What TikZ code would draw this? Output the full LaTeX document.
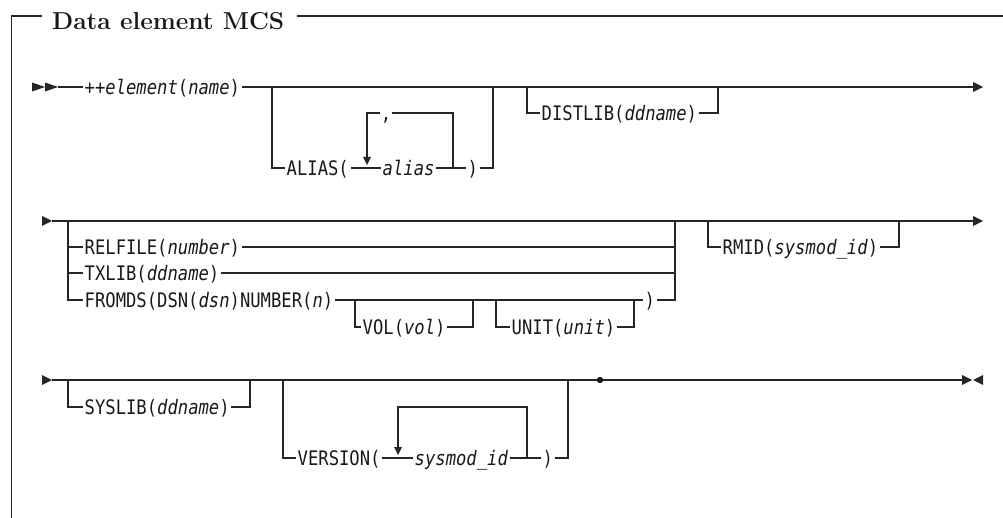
\documentclass[tikz,border=0pt]{standalone}
\usepackage{fontspec}
\newfontfamily\synfont[FakeStretch=0.86]{DejaVu Sans Mono}
\begin{document}
\begin{tikzpicture}[x=1pt,y=-1pt,
  ln/.style={line width=1.25pt,draw=black!85,line join=miter},
  syn/.style={font=\synfont\fontsize{20}{20}\selectfont,inner xsep=1.5pt,inner ysep=0pt,text height=14.6pt,text depth=0pt,anchor=west,text=black!90},
  ttlstyle/.style={font=\fontsize{24.5}{24.5}\selectfont\bfseries,inner sep=0pt,anchor=base west,text=black!90},
  tip/.style={fill=black!85}]
\useasboundingbox (0,0) rectangle (1003,518);

% ---------- frame and title
\coordinate (fTL) at (11.5,16);
\coordinate (fBL) at (11.5,518);
\coordinate (fTR) at (1003,16);
\node[ttlstyle] (ttl) at (52,29.5) {Data element MCS};
\draw[ln] (fBL) -- (fTL) -- ([xshift=-10pt]ttl.west |- fTL);
\draw[ln] ([xshift=13pt]ttl.east |- fTL) -- (fTR);

% ---------- row 1
\coordinate (r1s) at (58,87);
\coordinate (r1e) at (973,87);
\fill[tip] (32,82.5) -- (45,87) -- (32,91.5) -- cycle;
\fill[tip] (45,82.5) -- (58,87) -- (45,91.5) -- cycle;
\node[syn] (elem) at (83,87) {++\textit{element}(\textit{name})};
\draw[ln] (r1s) -- (elem.west);
\draw[ln] (elem.east) -- (r1e);
\fill[tip] (973,82) -- (983,87) -- (973,92) -- cycle;

% ALIAS branch
\coordinate (ab) at (272,87);
\coordinate (ab2) at (272,168);
\coordinate (ac) at (493,168);
\coordinate (at) at (493,87);
\node[syn] (aliasA) at (285,168) {ALIAS(};
\node[syn] (aliasV) at (381,168) {\textit{alias}};
\node[syn] (aliasP) at (466,168) {)};
\draw[ln] (ab) -- (ab2) -- (aliasA.west);
\draw[ln] (aliasA.east) -- (aliasV.west);
\draw[ln] (aliasV.east) -- (aliasP.west);
\draw[ln] (aliasP.east) -- (ac) -- (at);
% repeat loop
\coordinate (l1a) at (453,168);
\coordinate (l1b) at (453,113);
\coordinate (l1c) at (367,113);
\coordinate (l1d) at (367,157);
\node[syn,anchor=center,inner xsep=0.5pt] (comma) at (386,113) {,};
\draw[ln] (l1a) -- (l1b) -- (comma.east);
\draw[ln] (comma.west) -- (l1c) -- (l1d);
\fill[tip] (363,157) -- (371,157) -- (367,165) -- cycle;

% DISTLIB branch
\coordinate (db) at (527,87);
\coordinate (db2) at (527,113);
\coordinate (dc) at (718,113);
\coordinate (dt) at (718,87);
\node[syn] (dist) at (540,113) {DISTLIB(\textit{ddname})};
\draw[ln] (db) -- (db2) -- (dist.west);
\draw[ln] (dist.east) -- (dc) -- (dt);

% ---------- row 2
\coordinate (r2s) at (52,221);
\coordinate (r2e) at (973,221);
\fill[tip] (42,216) -- (52,221) -- (42,226) -- cycle;
\draw[ln] (r2s) -- (r2e);
\fill[tip] (973,216) -- (983,221) -- (973,226) -- cycle;

\coordinate (v2t) at (68,221);
\coordinate (v2b) at (68,300);
\coordinate (g2t) at (675,221);
\coordinate (g2b) at (675,300);
\coordinate (g2m1) at (675,247);
\coordinate (g2m2) at (675,273);
\node[syn] (rel) at (83,247) {RELFILE(\textit{number})};
\node[syn] (txl) at (83,273) {TXLIB(\textit{ddname})};
\node[syn] (frm) at (83,300) {FROMDS(DSN(\textit{dsn})NUMBER(\textit{n})};
\draw[ln] (v2t) -- (v2b) -- (frm.west);
\draw[ln] (rel.west -| v2t) -- (rel.west);
\draw[ln] (txl.west -| v2t) -- (txl.west);
\draw[ln] (rel.east) -- (g2m1);
\draw[ln] (txl.east) -- (g2m2);

% VOL
\coordinate (vt) at (355,300);
\coordinate (vb) at (355,327);
\coordinate (vc) at (473,327);
\coordinate (vct) at (473,300);
\node[syn] (vol) at (361,327) {VOL(\textit{vol})};
\draw[ln] (vt) -- (vb) -- (vol.west);
\draw[ln] (vol.east) -- (vc) -- (vct);
% UNIT
\coordinate (ut) at (496,300);
\coordinate (ub) at (496,327);
\coordinate (uc) at (634,327);
\coordinate (uct) at (634,300);
\node[syn] (unit) at (510,327) {UNIT(\textit{unit})};
\draw[ln] (ut) -- (ub) -- (unit.west);
\draw[ln] (unit.east) -- (uc) -- (uct);

\node[syn] (cp2) at (643,300) {)};
\draw[ln] (frm.east) -- (cp2.west);
\draw[ln] (cp2.east) -- (g2b) -- (g2t);

% RMID
\coordinate (rt) at (708,221);
\coordinate (rb) at (708,247);
\coordinate (rc) at (899,247);
\coordinate (rct) at (899,221);
\node[syn] (rmid) at (721,247) {RMID(\textit{sysmod\_id})};
\draw[ln] (rt) -- (rb) -- (rmid.west);
\draw[ln] (rmid.east) -- (rc) -- (rct);

% ---------- row 3
\coordinate (r3s) at (52,380);
\coordinate (r3e) at (962,380);
\fill[tip] (42,375) -- (52,380) -- (42,385) -- cycle;
\draw[ln] (r3s) -- (r3e);
\fill[tip] (962,375) -- (972,380) -- (962,385) -- cycle;
\fill[tip] (983,375) -- (973,380) -- (983,385) -- cycle;

% SYSLIB
\coordinate (st) at (68,380);
\coordinate (sb) at (68,407);
\coordinate (sc) at (250,407);
\coordinate (sct) at (250,380);
\node[syn] (sys) at (83,407) {SYSLIB(\textit{ddname})};
\draw[ln] (st) -- (sb) -- (sys.west);
\draw[ln] (sys.east) -- (sc) -- (sct);

% VERSION
\coordinate (vrt) at (283,380);
\coordinate (vrb) at (283,458);
\coordinate (vrc) at (568,458);
\coordinate (vrct) at (568,380);
\node[syn] (ver) at (296,458) {VERSION(};
\node[syn] (sid) at (413,458) {\textit{sysmod\_id}};
\node[syn] (cp3) at (541,458) {)};
\draw[ln] (vrt) -- (vrb) -- (ver.west);
\draw[ln] (ver.east) -- (sid.west);
\draw[ln] (sid.east) -- (cp3.west);
\draw[ln] (cp3.east) -- (vrc) -- (vrct);
% repeat loop
\coordinate (l2a) at (527,458);
\coordinate (l2b) at (527,407);
\coordinate (l2c) at (398,407);
\coordinate (l2d) at (398,447);
\draw[ln] (l2a) -- (l2b) -- (l2c) -- (l2d);
\fill[tip] (394,447) -- (402,447) -- (398,455) -- cycle;

% end dot
\fill[black!90] (600,380) circle (3.2);
\end{tikzpicture}
\end{document}
